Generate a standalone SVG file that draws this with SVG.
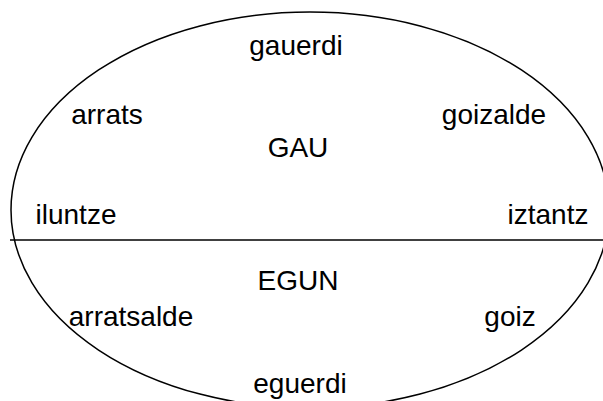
<svg xmlns="http://www.w3.org/2000/svg" width="603" height="401" viewBox="0 0 603 401">
<style>
.t{font-family:"Liberation Sans",Arial,sans-serif;font-size:28px;fill:#000;text-anchor:middle}
.s{fill:none;stroke:#000;stroke-width:1.5}
</style>
<rect width="603" height="401" fill="#fff"/>
<g id="connectors">
<ellipse class="s" cx="310" cy="210" rx="299" ry="198"/>
<line class="s" x1="10" y1="240" x2="603" y2="240"/>
</g>
<g id="gauerdi"><text class="t" x="296" y="55">gauerdi</text></g>
<g id="arrats"><text class="t" x="107" y="124">arrats</text></g>
<g id="goizalde"><text class="t" x="494" y="124">goizalde</text></g>
<g id="GAU"><text class="t" x="298" y="157">GAU</text></g>
<g id="iluntze"><text class="t" x="76" y="224">iluntze</text></g>
<g id="iztantz"><text class="t" x="548" y="224">iztantz</text></g>
<g id="EGUN"><text class="t" x="298" y="290">EGUN</text></g>
<g id="arratsalde"><text class="t" x="131" y="326">arratsalde</text></g>
<g id="goiz"><text class="t" x="510" y="326">goiz</text></g>
<g id="eguerdi"><text class="t" x="300" y="393">eguerdi</text></g>
</svg>
